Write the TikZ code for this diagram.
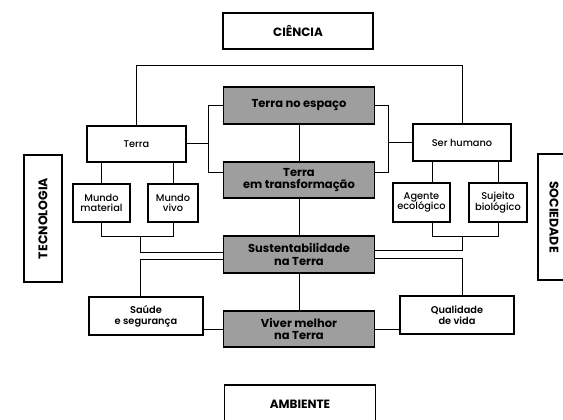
\documentclass[tikz,border=0pt]{standalone}
\usepackage{fontspec}
\setmainfont{Poppins}
\newfontfamily\medfont{Poppins}[UprightFont=* Medium]
\newfontfamily\semifont{Poppins}[UprightFont=* SemiBold]
\usetikzlibrary{calc}
\tikzset{
  box/.style={draw, line width=1.1pt, align=center, inner sep=1pt, font=\medfont\fontsize{9.8}{10.8}\selectfont},
  boxb/.style={box, font=\semifont\fontsize{9.8}{10.8}\selectfont},
  dark/.style={draw, fill=black!38, line width=1.6pt, align=center, inner sep=1pt, minimum width=151pt, font=\bfseries\fontsize{11.5}{12.5}\selectfont},
  head/.style={draw, line width=1.1pt, font=\bfseries\fontsize{12}{14}\selectfont},
  headtext/.style={font=\bfseries\fontsize{12.5}{14}\selectfont},
  link/.style={line width=1pt}
}
\begin{document}
\begin{tikzpicture}[x=1pt,y=-1pt]
\useasboundingbox (0,0) rectangle (563,420);
\node[head, minimum width=150, minimum height=36] (cien) at (298,31) {CIÊNCIA};
\node[dark, minimum height=37] (tne) at (299,105.5) {Terra no espaço};
\node[box, minimum width=99, minimum height=36] (terra) at (136.5,144) {Terra};
\node[box, minimum width=98, minimum height=37] (ser) at (462,142.5) {Ser humano};
\node[dark, minimum height=36] (tet) at (299,180) {Terra\\em transformação};
\node[box, minimum width=57, minimum height=38] (mmat) at (101.5,203) {Mundo\\material};
\node[box, minimum width=50, minimum height=38] (mviv) at (173,203) {Mundo\\vivo};
\node[box, minimum width=57, minimum height=39] (agen) at (421.5,202.5) {Agente\\ecológico};
\node[box, minimum width=58, minimum height=39] (suje) at (498,202.5) {Sujeito\\biológico};
\node[dark, minimum height=37] (sust) at (299,254.5) {Sustentabilidade\\na Terra};
\node[boxb, minimum width=114, minimum height=38] (saude) at (146,316) {Saúde\\e segurança};
\node[boxb, minimum width=114, minimum height=38] (qual) at (457,315) {Qualidade\\de vida};
\node[dark, minimum height=36] (viver) at (299,329) {Viver melhor\\na Terra};
\node[head, minimum width=151, minimum height=38] (amb) at (300,404) {AMBIENTE};
\node[head, minimum width=38, minimum height=127] (tec) at (43,218.5) {};
\node[headtext, rotate=90] (tect) at (tec.center) {TECNOLOGIA};
\node[head, minimum width=32, minimum height=126] (soc) at (554,217) {};
\node[headtext, rotate=-90] (soct) at (soc.center) {SOCIEDADE};
% top connector
\draw[link] (terra.north) -- ++(0,-60) -| (ser.north);
% brackets around Terra no espaco
\coordinate (bl) at (208,0);
\coordinate (br) at (388,0);
\coordinate (tetl) at ($(tet.north west)!0.3!(tet.south west)$);
\coordinate (tetr) at ($(tet.north east)!0.3!(tet.south east)$);
\draw[link] (tne.west) -| (bl |- tetl) -- (tetl);
\draw[link] (terra.east) -- (terra.east -| bl);
\draw[link] (tne.east) -| (br |- tetr) -- (tetr);
\draw[link] (ser.west) -- (ser.west -| br);
% centre
\draw[link] (tne.south) -- (tet.north);
\draw[link] (tet.south) -- (sust.north);
\draw[link] (sust.south) -- (viver.north);
% left side
\draw[link] (mmat.north) -- (mmat.north |- terra.south);
\draw[link] (mviv.north) -- (mviv.north |- terra.south);
\draw[link] (mmat.south) -- ++(0,14) -| (mviv.south);
\coordinate (lj) at (140,236);
\coordinate (sustl1) at ($(sust.west)+(0,-2.5)$);
\coordinate (sustl2) at ($(sust.west)+(0,4.5)$);
\draw[link] (lj) |- (sustl1);
\draw[link] (sustl2) -| (saude.north -| lj);
\draw[link] (viver.west) -- (viver.west -| saude.east);
% right side
\coordinate (ag) at ($(agen.north)+(10.5,0)$);
\draw[link] (ag) -- (ag |- ser.south);
\draw[link] (suje.north) -- (suje.north |- ser.south);
\draw[link] (agen.south -| ag) -- ++(0,14) -| (suje.south);
\coordinate (rj) at (462,236);
\coordinate (sustr1) at ($(sust.east)+(0,-4.5)$);
\coordinate (sustr2) at ($(sust.east)+(0,3.5)$);
\draw[link] (rj) |- (sustr1);
\draw[link] (sustr2) -| (qual.north -| rj);
\draw[link] (viver.east) -- (viver.east -| qual.west);
\end{tikzpicture}
\end{document}
